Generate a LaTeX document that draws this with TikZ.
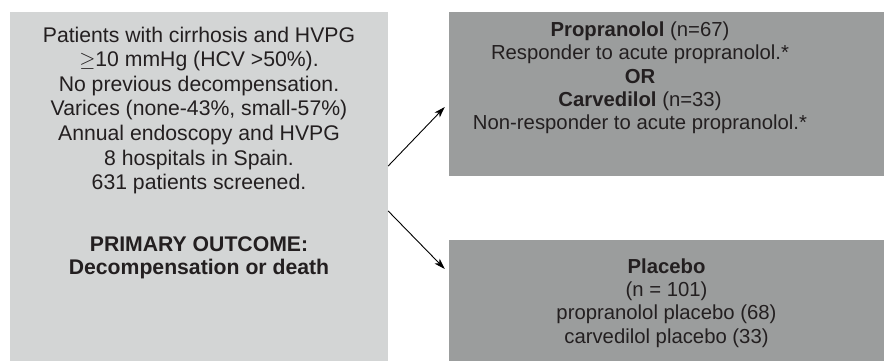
\documentclass[tikz,border=0pt]{standalone}
\usepackage{fontspec}
\setmainfont{Liberation Sans}
\usetikzlibrary{positioning,arrows.meta}
\definecolor{boxlight}{RGB}{211,213,213}
\definecolor{boxdark}{RGB}{155,157,157}
\definecolor{inkgray}{RGB}{35,31,32}

\begin{document}
\begin{tikzpicture}[x=1pt, y=1pt,
	boxstyle/.style={fill=boxlight, draw=none, inner sep=0pt},
	txtstyle/.style={align=center, text=inkgray, inner sep=0pt,
	font=\fontsize{21.2}{24.6}\selectfont},
	armtxt/.style={align=center, text=inkgray, inner sep=0pt,
	font=\fontsize{20.3}{23.3}\selectfont},
	arr/.style={-{Stealth[length=11pt, width=7pt, inset=3pt]}, line width=0.9pt}
	]
	\useasboundingbox (0,0) rectangle (884,361);
	% boxes
	\node[boxstyle, minimum width=378pt, minimum height=349pt] (cohort) at (199,174.5) {};
	\node[boxstyle, fill=boxdark, minimum width=435pt, minimum height=164pt] (active) at (666.5,267) {};
	\node[boxstyle, fill=boxdark, minimum width=435pt, minimum height=121pt] (placebo) at (666.5,60.5) {};
	
	% texts
	\node[txtstyle] (criteria) at ([yshift=76pt]cohort.center)
	{Patients with cirrhosis and HVPG\\
	$\geq$10 mmHg (HCV >50\%).\\
	No previous decompensation.\\
	Varices (none-43\%, small-57\%)\\
	Annual endoscopy and HVPG\\
	8 hospitals in Spain.\\
	631 patients screened.};
	\node[txtstyle, font=\fontsize{21.2}{23}\selectfont\bfseries] (outcome) [below=42pt of criteria]
	{PRIMARY OUTCOME:\\ Decompensation or death};
	\node[armtxt] (activetxt) at ([xshift=-26.5pt, yshift=16pt]active.center)
	{\textbf{Propranolol} (n=67)\\
	Responder to acute propranolol.*\\
	\textbf{OR}\\
	\textbf{Carvedilol} (n=33)\\
	Non-responder to acute propranolol.*};
	\node[armtxt] (placebotxt) at ([yshift=-2.5pt]placebo.center)
	{\textbf{Placebo}\\
	(n = 101)\\
	propranolol placebo (68)\\
	carvedilol placebo (33)};
	
	% arrows
	\coordinate (upend) at ([xshift=-4pt, yshift=-13pt]active.west);
	\coordinate (downend) at ([xshift=-4pt, yshift=31.5pt]placebo.west);
	\draw[arr] ([yshift=20.5pt]cohort.east) -- (upend);
	\draw[arr] ([yshift=-24.5pt]cohort.east) -- (downend);
\end{tikzpicture}
\end{document}
